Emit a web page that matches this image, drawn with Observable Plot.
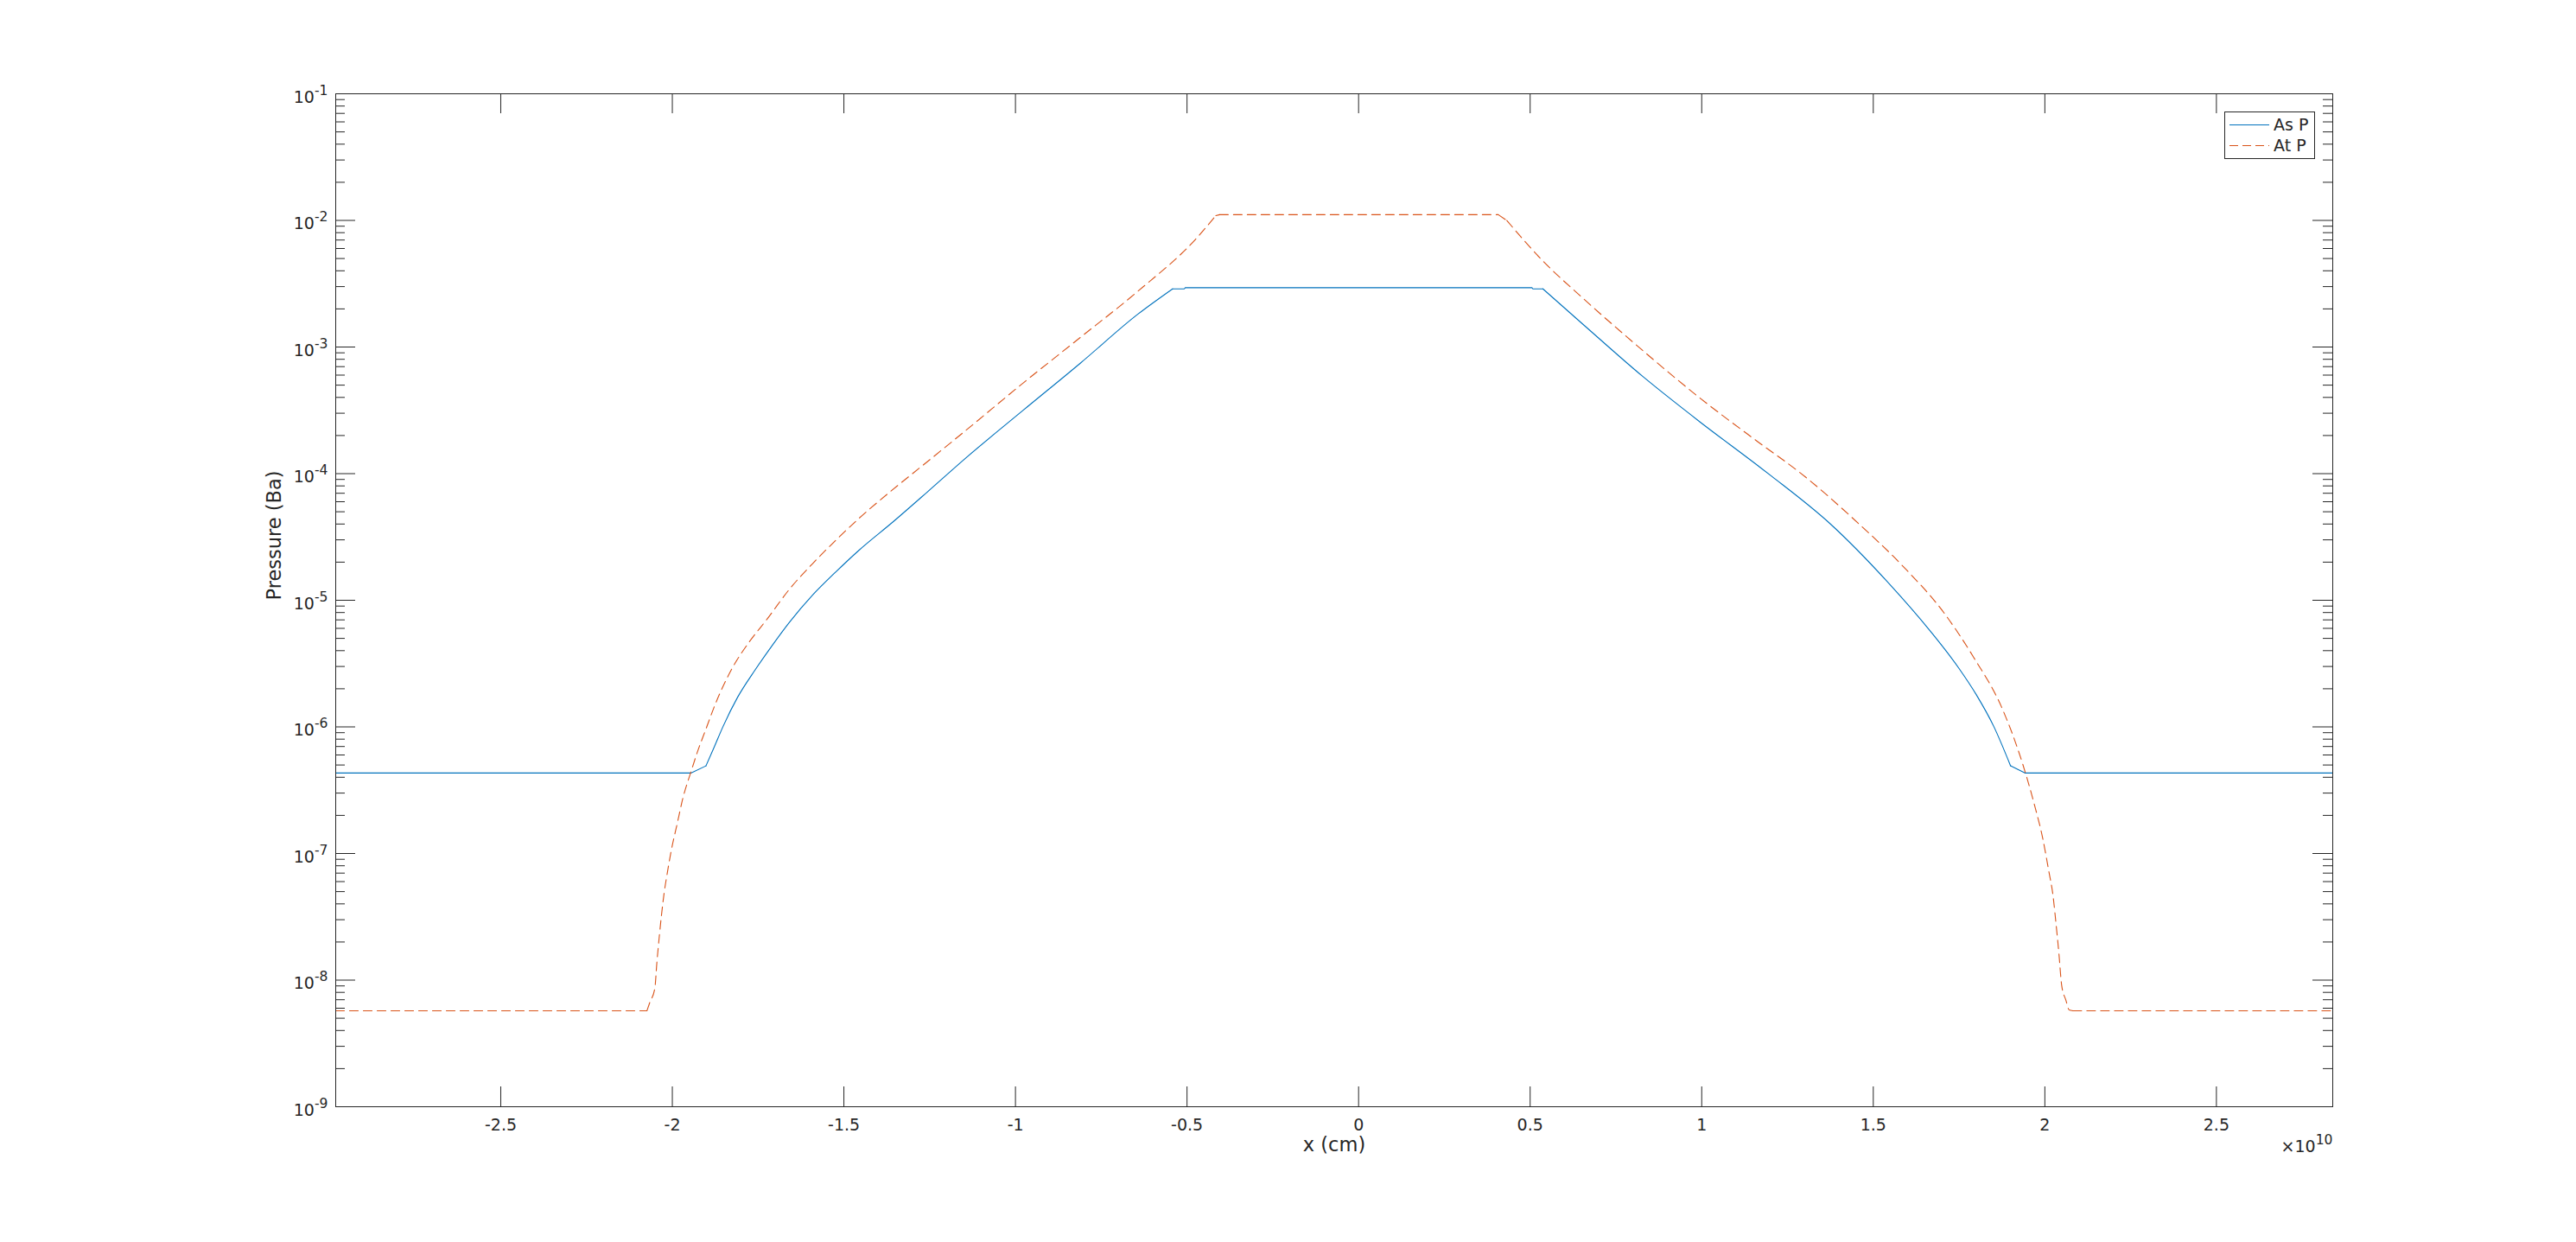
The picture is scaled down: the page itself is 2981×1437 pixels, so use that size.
<!DOCTYPE html>
<html>
<head>
<meta charset="utf-8">
<script src="https://cdn.jsdelivr.net/npm/d3@7"></script>
<script src="https://cdn.jsdelivr.net/npm/@observablehq/plot@0.6"></script>
<style>
  html, body { margin: 0; padding: 0; background: #fff; }
  #chart { position: relative; width: 2981px; height: 1437px; font-family: "DejaVu Sans", sans-serif; }
  #legend { position: absolute; left: 0; top: 0; pointer-events: none; }
</style>
</head>
<body>
<div id="chart"></div>
<script>
// ---- data (x in units of 10^10 cm, pressure in Ba) ----
const seriesNames = ["As P", "At P"];
const seriesColors = ["#0072BD", "#D95319"];

const asX = [-2.981, -1.946, -1.902, -1.877, -1.852, -1.810, -1.759, -1.709, -1.659, -1.591, -1.524, -1.457,
  -1.356, -1.255, -1.146, -0.979, -0.811, -0.643, -0.542, -0.508, -0.505,
  0.505, 0.508, 0.537, 0.659, 0.827, 0.995, 1.163, 1.205, 1.373, 1.540, 1.666, 1.750, 1.800, 1.851,
  1.900, 1.943, 2.839];
const asP = [4.32e-7, 4.32e-7, 4.92e-7, 7.02e-7, 1.01e-6, 1.71e-6, 2.81e-6, 4.39e-6, 6.68e-6, 1.10e-5, 1.67e-5, 2.47e-5,
  4.18e-5, 7.24e-5, 1.32e-4, 3.14e-4, 7.45e-4, 1.82e-3, 2.88e-3, 2.88e-3, 2.94e-3,
  2.94e-3, 2.88e-3, 2.88e-3, 1.47e-3, 5.89e-4, 2.56e-4, 1.16e-4, 9.48e-5, 4.05e-5, 1.41e-5, 5.71e-6, 2.89e-6, 1.80e-6, 1.01e-6,
  4.93e-7, 4.32e-7, 4.32e-7];
// x positions where the As P profile has a sharp corner
const asCorners = [-1.946, -1.902, -0.542, 0.537, 1.900, 1.943];

const atX = [-2.981, -2.074, -2.066, -2.051, -2.045, -2.038, -2.032, -2.024, -2.015, -2.003, -1.986, -1.969,
  -1.946, -1.927, -1.902, -1.877, -1.826, -1.776, -1.725, -1.659, -1.591, -1.524, -1.457, -1.364, -1.281,
  -1.146, -0.979, -0.811, -0.643, -0.475, -0.416, -0.405,
  0.407, 0.432, 0.533, 0.659, 0.827, 0.995, 1.163, 1.288, 1.456, 1.582, 1.708, 1.792, 1.876, 1.935,
  1.969, 1.994, 2.011, 2.024, 2.032, 2.041, 2.049, 2.061, 2.071, 2.082, 2.839];
const atP = [5.73e-9, 5.73e-9, 6.62e-9, 8.61e-9, 1.38e-8, 2.21e-8, 3.19e-8, 4.85e-8, 6.92e-8, 1.06e-7, 1.71e-7, 2.75e-7,
  4.39e-7, 6.32e-7, 9.62e-7, 1.46e-6, 2.89e-6, 4.68e-6, 7.03e-6, 1.22e-5, 1.95e-5, 2.97e-5, 4.41e-5, 7.24e-5, 1.10e-4,
  2.18e-4, 5.16e-4, 1.19e-3, 2.76e-3, 7.10e-3, 1.09e-2, 1.11e-2,
  1.11e-2, 9.98e-3, 4.91e-3, 2.36e-3, 9.44e-4, 3.95e-4, 1.79e-4, 1.01e-4, 4.06e-5, 1.91e-5, 7.82e-6, 3.56e-6, 1.39e-6, 5.13e-7,
  2.46e-7, 1.31e-7, 7.38e-8, 4.60e-8, 2.88e-8, 1.62e-8, 9.08e-9, 6.98e-9, 5.81e-9, 5.73e-9, 5.73e-9];
// x positions where the At P profile has a sharp corner
const atCorners = [-2.074, -0.416, -0.405, 0.407, 0.432, 2.082];

const xTicks = [-2.5, -2, -1.5, -1, -0.5, 0, 0.5, 1, 1.5, 2, 2.5];
const yMajorTicks = [1e-9, 1e-8, 1e-7, 1e-6, 1e-5, 1e-4, 1e-3, 1e-2, 1e-1];
const minorMultipliers = [2, 3, 4, 5, 6, 7, 8, 9];
const xLabel = "x (cm)";
const yLabel = "Pressure (Ba)";
const xExponentLabel = "×10^10";

// ---- layout ----
const W = 2981, H = 1437;
const mL = 388, mR = 282, mT = 108, mB = 157;
const plotW = W - mL - mR, plotH = H - mT - mB;
const ink = "#262626";
const majorLen = 23, minorLen = 11;
const tickFont = 19, labelFont = 22.5;

const yMinorTicks = [];
for (const d of yMajorTicks.slice(0, -1)) for (const m of minorMultipliers) yMinorTicks.push(d * m);

// split a profile into smooth pieces at its corners (corner points shared by both pieces)
function segmentize(xs, ys, corners) {
  const rows = [];
  let seg = 0;
  xs.forEach((x, i) => {
    rows.push({x, p: ys[i], seg});
    if (corners.includes(x) && i > 0 && i < xs.length - 1) {
      seg++;
      rows.push({x, p: ys[i], seg});
    }
  });
  return rows;
}
const asData = segmentize(asX, asP, asCorners);
const atData = segmentize(atX, atP, atCorners);

const chart = Plot.plot({
  width: W, height: H,
  marginLeft: mL, marginRight: mR, marginTop: mT, marginBottom: mB,
  style: {fontFamily: '"DejaVu Sans", sans-serif', fontSize: tickFont + "px", color: ink, background: "#fff", overflow: "visible"},
  x: {domain: [-2.981, 2.839]},
  y: {type: "log", domain: [1e-9, 1e-1]},
  marks: [
    Plot.line(asData, {x: "x", y: "p", z: "seg", stroke: seriesColors[0], strokeWidth: 1.1, curve: "monotone-x"}),
    Plot.line(atData, {x: "x", y: "p", z: "seg", stroke: seriesColors[1], strokeWidth: 1.1, strokeDasharray: "10,6", curve: "monotone-x"}),
    Plot.frame({stroke: ink, strokeWidth: 1}),
    Plot.tickX(xTicks, {x: d => d, insetTop: plotH - majorLen, stroke: ink}),
    Plot.tickX(xTicks, {x: d => d, insetBottom: plotH - majorLen, stroke: ink}),
    Plot.tickY(yMajorTicks, {y: d => d, insetRight: plotW - majorLen, stroke: ink}),
    Plot.tickY(yMajorTicks, {y: d => d, insetLeft: plotW - majorLen, stroke: ink}),
    Plot.tickY(yMinorTicks, {y: d => d, insetRight: plotW - minorLen, stroke: ink}),
    Plot.tickY(yMinorTicks, {y: d => d, insetLeft: plotW - minorLen, stroke: ink}),
    Plot.axisX({ticks: xTicks, tickSize: 0, tickPadding: 14, tickFormat: d => String(d), label: null, fontSize: tickFont, fill: ink}),
    Plot.axisY({ticks: yMajorTicks, tickSize: 0, tickPadding: 9, tickFormat: d => "10^" + Math.round(Math.log10(d)), label: null, fontSize: tickFont, fill: ink, dy: 4}),
    Plot.text([xLabel], {frameAnchor: "bottom", dy: 51, text: d => d, fontSize: labelFont, fill: ink}),
    Plot.text([yLabel], {frameAnchor: "left", dx: -71, rotate: -90, text: d => d, fontSize: labelFont, fill: ink}),
    Plot.text([xExponentLabel], {frameAnchor: "bottom-right", textAnchor: "end", dy: 52, text: d => d, fontSize: tickFont, fill: ink})
  ]
});

// superscripts for "10^n" labels
chart.querySelectorAll("text").forEach(t => {
  const s = t.textContent;
  const m = s.match(/^(.*)\^(-?\d+)$/);
  if (m && t.children.length === 0) {
    t.textContent = m[1];
    const ts = document.createElementNS("http://www.w3.org/2000/svg", "tspan");
    ts.setAttribute("dy", "-9");
    ts.setAttribute("font-size", "0.82em");
    ts.textContent = m[2];
    t.appendChild(ts);
  }
});

const host = document.getElementById("chart");
host.appendChild(chart);

// legend box (top-right, inside axes)
const ns = "http://www.w3.org/2000/svg";
const leg = document.createElementNS(ns, "svg");
leg.setAttribute("id", "legend");
leg.setAttribute("width", W);
leg.setAttribute("height", H);
const box = {x: 2574.5, y: 129.5, w: 104, h: 54};
const r = document.createElementNS(ns, "rect");
r.setAttribute("x", box.x); r.setAttribute("y", box.y);
r.setAttribute("width", box.w); r.setAttribute("height", box.h);
r.setAttribute("fill", "#fff"); r.setAttribute("stroke", ink); r.setAttribute("stroke-width", 1);
leg.appendChild(r);
seriesNames.forEach((name, i) => {
  const cy = box.y + 15 + i * 24;
  const ln = document.createElementNS(ns, "line");
  ln.setAttribute("x1", box.x + 5.5); ln.setAttribute("x2", box.x + 51.5);
  ln.setAttribute("y1", cy); ln.setAttribute("y2", cy);
  ln.setAttribute("stroke", seriesColors[i]); ln.setAttribute("stroke-width", 1.1);
  if (i === 1) ln.setAttribute("stroke-dasharray", "10,5");
  leg.appendChild(ln);
  const tx = document.createElementNS(ns, "text");
  tx.setAttribute("x", box.x + 56.5); tx.setAttribute("y", cy);
  tx.setAttribute("dy", "0.35em");
  tx.setAttribute("font-family", '"DejaVu Sans", sans-serif');
  tx.setAttribute("font-size", tickFont);
  tx.setAttribute("fill", ink);
  tx.textContent = name;
  leg.appendChild(tx);
});
host.appendChild(leg);
</script>
</body>
</html>
